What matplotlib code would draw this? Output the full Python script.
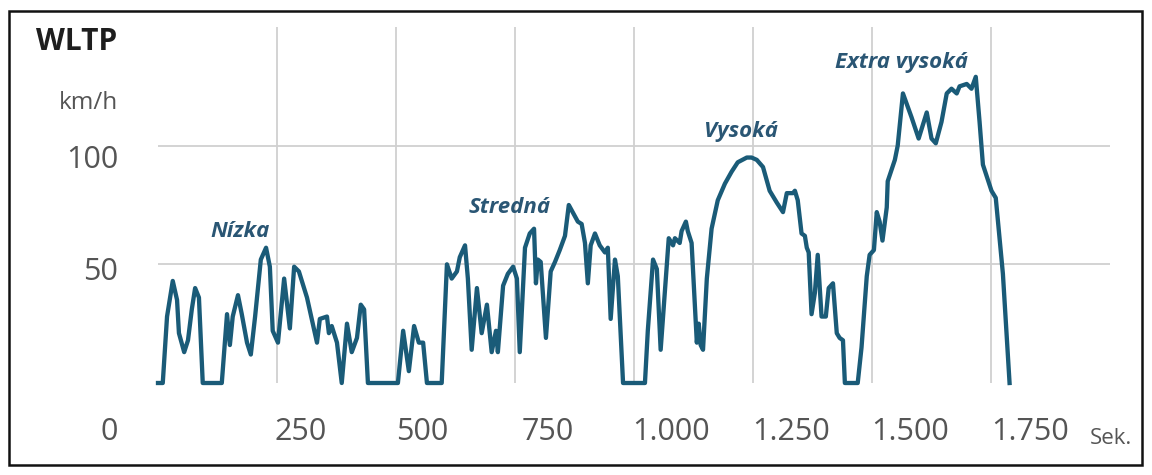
import matplotlib.pyplot as plt
from matplotlib.patches import Rectangle
from matplotlib.transforms import blended_transform_factory

# WLTP speed trace (seconds, km/h)
time_s = [0, 10, 19, 31, 40, 44, 55, 63, 71, 78, 86, 94, 134, 145, 151, 157, 168, 176, 187, 195,
          204, 216, 227, 235, 241, 252, 265, 277, 286, 296, 313, 323, 334, 340, 355, 359, 365, 376, 386, 397,
          407, 418, 426, 433, 441, 504, 515, 527, 538, 548, 557, 565, 596, 607, 617, 628, 634, 645, 651, 659,
          670, 680, 691, 701, 710, 714, 725, 735, 746, 754, 760, 771, 781, 790, 794, 798, 804, 815, 825, 834,
          844, 855, 863, 874, 882, 890, 897, 903, 909, 918, 928, 939, 945, 951, 960, 966, 977, 1023, 1029, 1040,
          1048, 1056, 1065, 1073, 1082, 1086, 1096, 1100, 1109, 1113, 1121, 1132, 1136, 1140, 1145, 1153, 1163, 1176, 1191, 1205,
          1218, 1237, 1247, 1258, 1271, 1285, 1300, 1313, 1321, 1334, 1338, 1344, 1352, 1359, 1363, 1367, 1373, 1380, 1386, 1394,
          1403, 1409, 1418, 1426, 1432, 1439, 1443, 1470, 1478, 1489, 1495, 1504, 1510, 1516, 1522, 1531, 1533, 1548, 1554, 1565,
          1583, 1598, 1615, 1625, 1634, 1646, 1657, 1667, 1678, 1684, 1699, 1709, 1718, 1726, 1733, 1751, 1760, 1775, 1789]
speed = [0, 0, 28, 43, 35, 21, 13, 18, 31, 40, 36, 0, 0, 29, 16, 28, 37, 29, 17, 12,
         28, 52, 57, 49, 22, 17, 44, 23, 49, 47, 36, 27, 17, 27, 28, 21, 24, 17, 0, 25,
         13, 19, 33, 31, 0, 0, 22, 5, 24, 17, 17, 0, 0, 50, 44, 47, 53, 58, 44, 14,
         40, 21, 33, 13, 22, 13, 41, 46, 49, 44, 13, 57, 63, 65, 42, 52, 51, 19, 47, 51,
         56, 62, 75, 71, 68, 67, 59, 42, 58, 63, 58, 55, 57, 27, 52, 45, 0, 0, 22, 52,
         48, 14, 39, 61, 58, 61, 59, 64, 68, 64, 59, 17, 25, 16, 14, 44, 65, 77, 84, 89,
         93, 95, 95, 94, 91, 81, 76, 72, 80, 80, 81, 77, 63, 62, 57, 55, 29, 38, 54, 28,
         28, 40, 42, 21, 19, 18, 0, 0, 15, 45, 54, 56, 72, 68, 60, 74, 85, 94, 100, 122,
         112, 103, 114, 103, 101, 110, 122, 124, 122, 125, 126, 124, 129, 110, 92, 81, 78, 46, 0]

phases = ['Nízka', 'Stredná', 'Vysoká', 'Extra vysoká']
phase_x = [172, 739, 1225, 1562]
phase_y = [64, 74, 106, 135]

grid_x = [250, 500, 750, 1000, 1250, 1500, 1750]
grid_y = [50, 100]
xlabels = ['0', '250', '500', '750', '1.000', '1.250', '1.500', '1.750']
xlabel_pos = [-103, 300, 555, 819, 1078, 1330, 1580, 1832]

W, H = 1152, 475
fig = plt.figure(figsize=(W / 100, H / 100), dpi=100)
fig.patch.set_facecolor('white')
ax = fig.add_axes([158 / W, 92 / H, 952 / W, 356 / H])
ax.set_xlim(0, 2000)
ax.set_ylim(0, 150)
for s in ax.spines.values():
    s.set_visible(False)
ax.set_xticks(grid_x)
ax.set_yticks(grid_y)
ax.tick_params(length=0, labelbottom=False, labelleft=False)
ax.grid(color='#d0d0d0', linewidth=1.3)
ax.set_axisbelow(True)

line_col = '#1a5b78'
ax.plot(time_s, speed, color=line_col, lw=3.1, solid_joinstyle='round', clip_on=False)

for name, x, y in zip(phases, phase_x, phase_y):
    ax.text(x, y, name, ha='center', va='center', fontsize=16, family='Open Sans',
            weight='bold', style='italic', color='#2a5674')

# x tick labels (shifted right of the gridlines, like the original)
trx = blended_transform_factory(ax.transData, ax.transAxes)
for lab, x in zip(xlabels, xlabel_pos):
    ax.text(x, -0.138, lab, transform=trx, ha='center', va='center',
            fontsize=22, family='Open Sans', color='#555555', clip_on=False)
fig.text(1090 / W, 1 - 444 / H, 'Sek.', ha='left', va='baseline', fontsize=16,
         family='Open Sans', color='#555555')

# y labels
fig.text(118 / W, 1 - 160 / H, '100', ha='right', va='center', fontsize=22,
         family='Open Sans', color='#555555')
fig.text(118 / W, 1 - 272 / H, '50', ha='right', va='center', fontsize=22,
         family='Open Sans', color='#555555')
fig.text(118 / W, 1 - 103 / H, 'km/h', ha='right', va='center', fontsize=17.5,
         family='Open Sans', color='#555555')
fig.text(36 / W, 1 - 42 / H, 'WLTP', ha='left', va='center', fontsize=21.5,
         family='Open Sans', weight='bold', color='#1e1e1e')

# frame around the whole figure
fig.patches.append(Rectangle((9 / W, 10 / H), 1133 / W, 454 / H, transform=fig.transFigure,
                             fill=False, edgecolor='#111111', linewidth=1.8))

fig.savefig('out.png', dpi=100)
